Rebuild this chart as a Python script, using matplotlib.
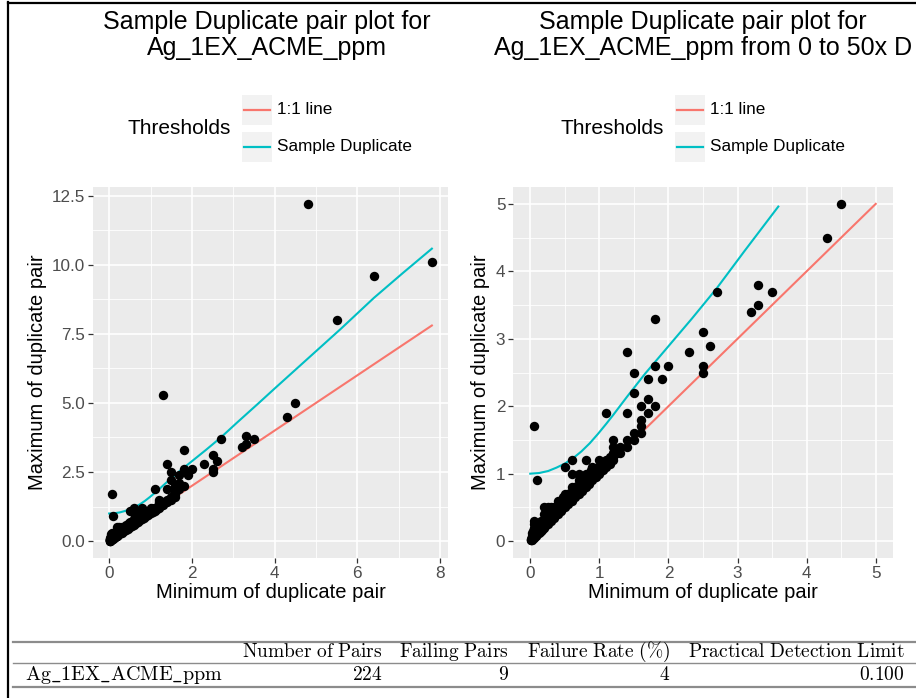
import numpy as np
import matplotlib
matplotlib.use("Agg")
import matplotlib.pyplot as plt
from matplotlib.lines import Line2D
from matplotlib.patches import Rectangle

plt.rcParams['mathtext.fontset'] = 'cm'
SANS = ['Liberation Sans', 'DejaVu Sans']

# ---------------- data ----------------
min_vals = [
    0.06, 0.10, 1.10, 1.40, 1.40, 1.50, 1.50, 1.80, 1.80, 1.70,
    1.90, 2.00, 1.70, 1.60, 1.80, 1.70, 1.60, 1.60, 2.30, 2.50,
    2.50, 2.50, 2.60, 2.70, 3.20, 3.30, 3.30, 3.50, 4.30, 4.50,
    1.30, 4.80, 5.50, 6.40, 7.80,
    0.5, 0.6, 0.8, 0.6, 0.7, 0.9, 1.0, 1.1, 1.2, 1.2,
    1.3, 1.4, 1.5, 1.5, 1.4, 1.3, 1.2, 1.1, 1.0, 1.6,
    1.2, 1.0, 0.9, 0.9, 0.8, 0.8, 0.7, 0.7, 0.7,
    0.01, 0.01, 0.01, 0.02, 0.02, 0.02, 0.02, 0.03, 0.03, 0.03,
    0.03, 0.04, 0.04, 0.04, 0.04, 0.05, 0.05, 0.05, 0.05, 0.05,
    0.06, 0.06, 0.06, 0.06, 0.07, 0.07, 0.07, 0.08, 0.08, 0.08,
    0.08, 0.09, 0.09, 0.09, 0.10, 0.10, 0.10, 0.10, 0.10, 0.11,
    0.12, 0.12, 0.12, 0.13, 0.13, 0.14, 0.14, 0.15, 0.15, 0.15,
    0.16, 0.17, 0.17, 0.18, 0.18, 0.19, 0.20, 0.20, 0.20, 0.20,
    0.20, 0.21, 0.22, 0.22, 0.23, 0.24, 0.25, 0.25, 0.25, 0.25,
    0.26, 0.27, 0.28, 0.28, 0.29, 0.30, 0.30, 0.30, 0.30, 0.31,
    0.32, 0.33, 0.34, 0.35, 0.35, 0.35, 0.36, 0.37, 0.38, 0.39,
    0.40, 0.40, 0.40, 0.40, 0.42, 0.43, 0.44, 0.45, 0.45, 0.45,
    0.46, 0.48, 0.48, 0.50, 0.50, 0.50, 0.50, 0.52, 0.53, 0.55,
    0.55, 0.55, 0.57, 0.58, 0.60, 0.60, 0.60, 0.60, 0.62, 0.63,
    0.65, 0.65, 0.65, 0.67, 0.68, 0.70, 0.72, 0.73, 0.75, 0.75,
    0.75, 0.77, 0.78, 0.80, 0.80, 0.82, 0.83, 0.85, 0.85, 0.85,
    0.87, 0.88, 0.90, 0.92, 0.93, 0.95, 0.95, 0.97, 1.00, 1.02,
    1.05, 1.05, 1.08, 1.10, 1.12, 1.15, 1.15, 1.18, 1.20, 1.25,
]
max_vals = [
    1.70, 0.90, 1.90, 2.80, 1.90, 2.50, 2.20, 3.30, 2.60, 2.40,
    2.40, 2.60, 2.10, 2.00, 2.00, 1.90, 1.80, 1.70, 2.80, 3.10,
    2.60, 2.50, 2.90, 3.70, 3.40, 3.80, 3.50, 3.70, 4.50, 5.00,
    5.30, 12.20, 8.00, 9.60, 10.10,
    1.1, 1.2, 1.2, 1.0, 1.0, 1.1, 1.2, 1.2, 1.4, 1.5,
    1.4, 1.5, 1.6, 1.5, 1.4, 1.3, 1.3, 1.1, 1.1, 1.6,
    1.2, 1.0, 1.0, 0.9, 0.9, 0.8, 0.8, 0.9, 0.7,
    0.01, 0.02, 0.03, 0.02, 0.03, 0.04, 0.06, 0.03, 0.05, 0.08,
    0.12, 0.04, 0.06, 0.10, 0.15, 0.05, 0.07, 0.10, 0.20, 0.25,
    0.06, 0.09, 0.12, 0.30, 0.07, 0.10, 0.18, 0.08, 0.11, 0.15,
    0.22, 0.09, 0.12, 0.20, 0.10, 0.12, 0.15, 0.20, 0.25, 0.14,
    0.12, 0.16, 0.22, 0.15, 0.20, 0.14, 0.18, 0.15, 0.20, 0.30,
    0.20, 0.17, 0.22, 0.20, 0.28, 0.25, 0.20, 0.24, 0.30, 0.40,
    0.50, 0.26, 0.22, 0.30, 0.28, 0.35, 0.25, 0.30, 0.40, 0.50,
    0.32, 0.30, 0.36, 0.45, 0.33, 0.30, 0.35, 0.40, 0.50, 0.38,
    0.36, 0.42, 0.38, 0.35, 0.40, 0.50, 0.45, 0.42, 0.48, 0.44,
    0.40, 0.45, 0.50, 0.60, 0.48, 0.55, 0.50, 0.45, 0.55, 0.60,
    0.52, 0.58, 0.65, 0.50, 0.55, 0.60, 0.70, 0.60, 0.65, 0.55,
    0.62, 0.70, 0.66, 0.72, 0.60, 0.66, 0.70, 0.80, 0.70, 0.75,
    0.65, 0.72, 0.80, 0.76, 0.82, 0.75, 0.80, 0.86, 0.75, 0.82,
    0.90, 0.85, 0.92, 0.85, 1.00, 0.90, 0.95, 0.85, 0.92, 1.00,
    0.95, 1.05, 0.95, 1.00, 1.08, 0.95, 1.05, 1.05, 1.05, 1.10,
    1.05, 1.15, 1.15, 1.15, 1.20, 1.15, 1.25, 1.25, 1.25, 1.30,
]

# threshold curves
dup_curve_x = [0.0, 0.13, 0.26, 0.38, 0.50, 0.62, 0.74, 0.86, 0.98, 1.10,
               1.20, 1.40, 1.66, 2.00, 2.34, 2.70, 3.10, 3.59, 4.00, 4.80,
               5.60, 6.40, 7.10, 7.80]
dup_curve_y = [1.00, 1.01, 1.04, 1.09, 1.15, 1.23, 1.33, 1.45, 1.59, 1.74,
               1.87, 2.14, 2.48, 2.89, 3.30, 3.75, 4.30, 4.96, 5.52, 6.60,
               7.68, 8.80, 9.70, 10.58]
one_to_one_left = [0.0, 7.8]
one_to_one_right = [0.0, 5.0]

titles = ["Sample Duplicate pair plot for\nAg_1EX_ACME_ppm",
          "Sample Duplicate pair plot for\nAg_1EX_ACME_ppm from 0 to 50x D"]
legend_title = "Thresholds"
legend_labels = ["1:1 line", "Sample Duplicate"]
xlabel = "Minimum of duplicate pair"
ylabel = "Maximum of duplicate pair"

table_header = ["Number of Pairs", "Failing Pairs", "Failure Rate (%)", "Practical Detection Limit"]
table_row_label = "Ag_1EX_ACME_ppm"
table_values = ["224", "9", "4", "0.100"]

RED = '#F8766D'
CYAN = '#00BFC4'

W, H = 916, 698
fig = plt.figure(figsize=(W / 100, H / 100), dpi=100)


def fx(x):
    return x / W


def fy(y):
    return 1 - y / H


def add_panel(l, t, r, b):
    return fig.add_axes([fx(l), fy(b), fx(r) - fx(l), fy(t) - fy(b)])


def style(ax, xmaj, xmin_, ymaj, ymin_, xl, yl, ylabels):
    ax.set_facecolor('#EBEBEB')
    for s in ax.spines.values():
        s.set_visible(False)
    ax.set_xticks(xmaj)
    ax.set_xticks(xmin_, minor=True)
    ax.set_yticks(ymaj)
    ax.set_yticks(ymin_, minor=True)
    ax.set_yticklabels(ylabels)
    ax.set_xlim(*xl)
    ax.set_ylim(*yl)
    ax.grid(which='major', color='white', lw=1.2)
    ax.grid(which='minor', color='white', lw=0.6)
    ax.set_axisbelow(True)
    ax.tick_params(which='major', length=3.5, width=0.9, color='#333333',
                   labelcolor='#4D4D4D', labelsize=12.3, pad=2)
    ax.tick_params(which='minor', length=0)
    for lab in ax.get_xticklabels() + ax.get_yticklabels():
        lab.set_family(SANS)
    ax.set_xlabel(xlabel, fontsize=14.5, family=SANS, color='black', labelpad=2)
    ax.set_ylabel(ylabel, fontsize=14.5, family=SANS, color='black', labelpad=4)


mins = np.array(min_vals)
maxs = np.array(max_vals)
cx = np.array(dup_curve_x)
cy = np.array(dup_curve_y)

# left panel
ax1 = add_panel(93, 187, 448, 558)
ax1.scatter(mins, maxs, s=46, color='black', zorder=3, linewidths=0)
ax1.plot(one_to_one_left, one_to_one_left, color=RED, lw=1.5, zorder=2)
ax1.plot(cx, cy, color=CYAN, lw=1.5, zorder=2)
style(ax1, [0, 2, 4, 6, 8], [1, 3, 5, 7],
      [0, 2.5, 5, 7.5, 10, 12.5], [1.25, 3.75, 6.25, 8.75, 11.25],
      (-0.39, 8.19), (-0.61, 12.81),
      ['0.0', '2.5', '5.0', '7.5', '10.0', '12.5'])

# right panel
ax2 = add_panel(513, 187, 893, 558)
sel = (mins <= 5) & (maxs <= 5)
ax2.scatter(mins[sel], maxs[sel], s=46, color='black', zorder=3, linewidths=0)
ax2.plot(one_to_one_right, one_to_one_right, color=RED, lw=1.5, zorder=2)
csel = cy <= 5
ax2.plot(cx[csel], cy[csel], color=CYAN, lw=1.5, zorder=2)
style(ax2, [0, 1, 2, 3, 4, 5], [0.5, 1.5, 2.5, 3.5, 4.5],
      [0, 1, 2, 3, 4, 5], [0.5, 1.5, 2.5, 3.5, 4.5],
      (-0.25, 5.25), (-0.25, 5.25),
      ['0', '1', '2', '3', '4', '5'])

# titles
for cxp, t in zip([267, 703], titles):
    fig.text(fx(cxp), fy(35), t, ha='center', va='center', fontsize=18,
             family=SANS, color='black', linespacing=1.12, multialignment='center')

# legends
for off in [0, 433]:
    fig.text(fx(231 + off), fy(128), legend_title, ha='right', va='center',
             fontsize=15, family=SANS, color='black')
    for i, (lab, col) in enumerate(zip(legend_labels, [RED, CYAN])):
        top = 95 + i * 37
        fig.add_artist(Rectangle((fx(242 + off), fy(top + 30)), fx(30), 30 / H,
                                 transform=fig.transFigure, facecolor='#F2F2F2',
                                 edgecolor='none'))
        fig.add_artist(Line2D([fx(244 + off), fx(270 + off)], [fy(top + 15)] * 2,
                              transform=fig.transFigure, color=col, lw=1.6))
        fig.text(fx(277 + off), fy(top + 15), lab, ha='left', va='center',
                 fontsize=12.3, family=SANS, color='black')

# frame of screenshot
fig.add_artist(Line2D([fx(7.5), fx(7.5)], [0, fy(2)], transform=fig.transFigure,
                      color='black', lw=1.6))
fig.add_artist(Line2D([fx(7.5), 1], [fy(2.5), fy(2.5)], transform=fig.transFigure,
                      color='black', lw=1.6))

# table
for yy, lw in [(642, 1.6), (663, 1.0), (687, 1.6)]:
    fig.add_artist(Line2D([fx(13), 1], [fy(yy), fy(yy)], transform=fig.transFigure,
                          color='#8C8C8C', lw=lw))


def mt(s):
    s = s.replace('_', r'\_').replace('%', r'\%').replace(' ', r'\ ')
    return r'$\mathrm{' + s + '}$'


col_right = [383, 509, 670, 905]
for xr, h, v in zip(col_right, table_header, table_values):
    fig.text(fx(xr), fy(657), mt(h), ha='right', va='baseline', fontsize=14, color='black')
    fig.text(fx(xr), fy(680), mt(v), ha='right', va='baseline', fontsize=14, color='black')
fig.text(fx(25), fy(680), mt(table_row_label), ha='left', va='baseline', fontsize=14.5,
         color='black')

fig.savefig('out.png', dpi=100, facecolor='white')
